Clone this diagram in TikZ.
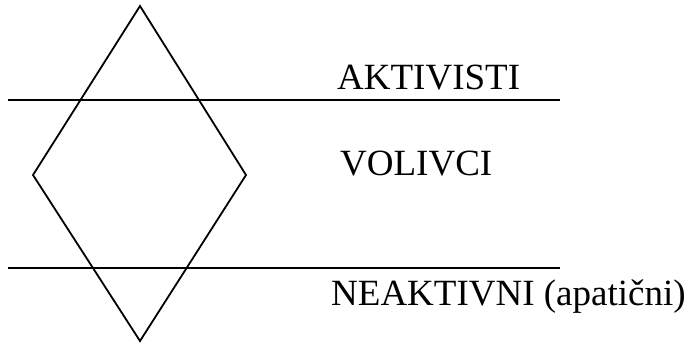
\documentclass[tikz,border=0pt]{standalone}
\usepackage{fontspec}
\setmainfont{Liberation Serif}
\begin{document}
\begin{tikzpicture}[x=1pt,y=-1pt,
  stroke/.style={line width=1.8pt,black},
  lbl/.style={anchor=base west,inner sep=0pt,font=\fontsize{37}{42}\selectfont}]
\useasboundingbox (0,0) rectangle (690,343);
% diamond
\coordinate (dt) at (140,6);
\coordinate (dl) at (33,175);
\coordinate (dr) at (246,175);
\coordinate (db) at (140,341);
\draw[stroke,line join=miter] (dt) -- (dr) -- (db) -- (dl) -- cycle;
% horizontal lines
\coordinate (l1a) at (8,100);
\coordinate (l1b) at (560,100);
\coordinate (l2a) at (8,268);
\coordinate (l2b) at (560,268);
\draw[stroke] (l1a) -- (l1b);
\draw[stroke] (l2a) -- (l2b);
% labels
\node[lbl] (akt) at (337,89) {AKTIVISTI};
\node[lbl] (vol) at (340,175) {VOLIVCI};
\node[lbl] (nea) at (331,305) {NEAKTIVNI (apatični)};
\end{tikzpicture}
\end{document}
